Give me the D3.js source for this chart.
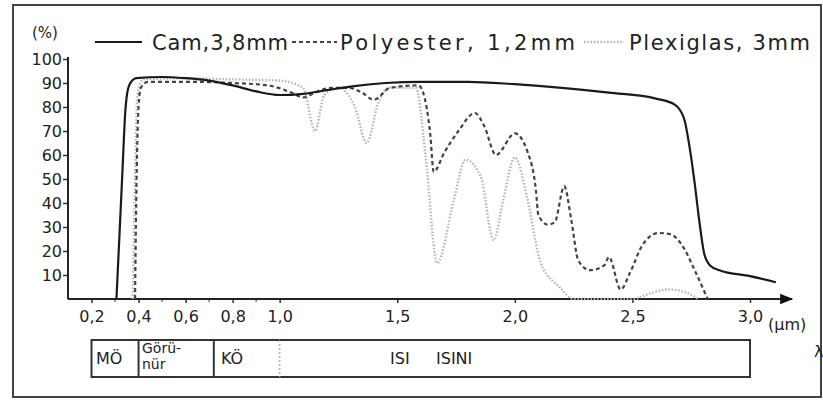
<!DOCTYPE html>
<html>
<head>
<meta charset="utf-8">
<script src="https://cdn.jsdelivr.net/npm/d3@7"></script>
<style>
  body { margin: 0; background: #fff; }
  svg { display: block; font-family: 'DejaVu Sans', sans-serif; }
</style>
</head>
<body>
<div id="chart"></div>
<script>
// transmission (%) against wavelength (µm)
const camData = [
  [0.306, 0], [0.33, 50], [0.345, 80], [0.36, 89], [0.39, 92], [0.5, 92.5],
  [0.6, 92], [0.7, 91], [0.8, 89], [0.9, 86.5], [1.0, 85], [1.1, 85.5],
  [1.2, 87], [1.3, 88.5], [1.45, 90], [1.6, 90.5], [1.8, 90.5], [2.0, 89.5],
  [2.2, 88], [2.4, 86], [2.6, 83.5], [2.68, 81], [2.72, 75], [2.745, 62],
  [2.765, 48], [2.785, 32], [2.805, 19], [2.83, 14], [2.87, 12], [3.0, 9.5], [3.11, 7]
];
const polyesterData = [
  [0.385, 0], [0.39, 40], [0.4, 80], [0.41, 88], [0.44, 90.5], [0.6, 90.5],
  [0.8, 90], [0.95, 89], [1.05, 86], [1.1, 84], [1.15, 86], [1.22, 88],
  [1.29, 88], [1.35, 86], [1.4, 83], [1.47, 88], [1.59, 89], [1.61, 86],
  [1.64, 69], [1.655, 53], [1.7, 61], [1.76, 70], [1.83, 77.5], [1.87, 72],
  [1.92, 60], [2.0, 69], [2.055, 61], [2.09, 45], [2.1, 35], [2.14, 31],
  [2.17, 32], [2.21, 47], [2.24, 33], [2.27, 16], [2.32, 12], [2.38, 14],
  [2.4, 17.5], [2.45, 4], [2.49, 11], [2.54, 22], [2.61, 27.5], [2.66, 27],
  [2.72, 21], [2.76, 13], [2.82, 0]
];
const plexiglasData = [
  [0.375, 0], [0.385, 50], [0.395, 85], [0.42, 91.5], [0.6, 92], [0.8, 91.5],
  [1.0, 91], [1.1, 88], [1.15, 70], [1.19, 85], [1.25, 88], [1.32, 80],
  [1.37, 65], [1.42, 82], [1.47, 88], [1.58, 88], [1.62, 60], [1.67, 15],
  [1.74, 41], [1.79, 58], [1.855, 51], [1.91, 24.5], [1.95, 41], [2.0, 59],
  [2.055, 41], [2.11, 15], [2.19, 5], [2.25, 0], [2.5, 0], [2.58, 2.5],
  [2.65, 4], [2.72, 3], [2.78, 0]
];

const yTicks = [10, 20, 30, 40, 50, 60, 70, 80, 90, 100];
const xTicks = [0.2, 0.4, 0.6, 0.8, 1.0, 1.5, 2.0, 2.5, 3.0];
const xMinorTicks = [0.3, 0.5, 0.7, 0.9];

const legendLabels = ['Cam,3,8mm', 'Polyester, 1,2mm', 'Plexiglas, 3mm'];

// spectral bands under the axis
const bandEdges = [0.2, 0.4, 0.72, 1.0, 3.0];
const bandLabels = [['MÖ'], ['Görü-', 'nür'], ['KÖ'], ['ISI'], ['ISINI']];

const width = 823, height = 403;

const svg = d3.select('#chart').append('svg')
  .attr('width', width)
  .attr('height', height);

// outer frame of the scanned figure
svg.append('rect')
  .attr('x', 13).attr('y', 5)
  .attr('width', 808).attr('height', 392)
  .attr('fill', 'none')
  .attr('stroke', '#444')
  .attr('stroke-width', 2);

const x = d3.scaleLinear().domain([0.1, 3.17]).range([68, 790]);
const y = d3.scaleLinear().domain([0, 100]).range([299, 59]);

// Y axis
const yAxis = svg.append('g')
  .attr('transform', 'translate(68,0)')
  .call(d3.axisLeft(y).tickValues(yTicks).tickSize(5).tickPadding(1).tickFormat(d3.format('d')));
yAxis.select('.domain').remove();
yAxis.selectAll('line').attr('stroke', '#333').attr('stroke-width', 1.5);
yAxis.selectAll('text')
  .attr('font-size', 16)
  .attr('font-family', 'DejaVu Sans')
  .attr('fill', '#222');

svg.append('line')
  .attr('x1', 68).attr('x2', 68)
  .attr('y1', y(0)).attr('y2', y(100) - 2)
  .attr('stroke', '#222').attr('stroke-width', 2);

svg.append('text')
  .attr('x', 45).attr('y', 38)
  .attr('text-anchor', 'middle')
  .attr('font-size', 15)
  .attr('fill', '#222')
  .text('(%)');

// X axis
const commaFmt = d => d3.format('.1f')(d).replace('.', ',');
const xAxis = svg.append('g')
  .attr('transform', `translate(0,${y(0)})`)
  .call(d3.axisBottom(x).tickValues(xTicks).tickSize(4).tickPadding(8).tickFormat(commaFmt));
xAxis.select('.domain').remove();
xAxis.selectAll('line').attr('stroke', '#333').attr('stroke-width', 1.5);
xAxis.selectAll('text')
  .attr('font-size', 16)
  .attr('font-family', 'DejaVu Sans')
  .attr('fill', '#222');

svg.append('g')
  .selectAll('line')
  .data(xMinorTicks)
  .join('line')
  .attr('x1', d => x(d)).attr('x2', d => x(d))
  .attr('y1', y(0)).attr('y2', y(0) + 3)
  .attr('stroke', '#555').attr('stroke-width', 1.2);

svg.append('defs').append('marker')
  .attr('id', 'arrow')
  .attr('viewBox', '0 0 10 10')
  .attr('refX', 9).attr('refY', 5)
  .attr('markerWidth', 7).attr('markerHeight', 6)
  .attr('orient', 'auto')
  .append('path')
  .attr('d', 'M0,1 L10,5 L0,9 Z')
  .attr('fill', '#111');

svg.append('line')
  .attr('x1', 68).attr('x2', 792)
  .attr('y1', y(0)).attr('y2', y(0))
  .attr('stroke', '#222').attr('stroke-width', 2.2)
  .attr('marker-end', 'url(#arrow)');

svg.append('text')
  .attr('x', 768).attr('y', 330)
  .attr('font-size', 16)
  .attr('fill', '#222')
  .text('(µm)');

// curves
const line = d3.line()
  .x(d => x(d[0]))
  .y(d => y(d[1]))
  .curve(d3.curveMonotoneX);

const styles = [
  { stroke: '#1a1a1a', width: 2.2, dash: null },
  { stroke: '#444', width: 2.2, dash: '4,3' },
  { stroke: '#b4b4b4', width: 2.4, dash: '1.5,1.8' }
];

[plexiglasData, polyesterData, camData].forEach((data, i) => {
  const s = styles[2 - i];
  svg.append('path')
    .datum(data)
    .attr('fill', 'none')
    .attr('stroke', s.stroke)
    .attr('stroke-width', s.width)
    .attr('stroke-dasharray', s.dash)
    .attr('stroke-linejoin', 'round')
    .attr('d', line);
});

// legend
const legendPos = [
  { x1: 95, x2: 142, tx: 152, len: 136 },
  { x1: 292, x2: 337, tx: 340, len: 235 },
  { x1: 584, x2: 624, tx: 629, len: 181 }
];
legendLabels.forEach((label, i) => {
  const p = legendPos[i], s = styles[i];
  svg.append('line')
    .attr('x1', p.x1).attr('x2', p.x2)
    .attr('y1', 42).attr('y2', 42)
    .attr('stroke', s.stroke)
    .attr('stroke-width', s.width)
    .attr('stroke-dasharray', s.dash);
  svg.append('text')
    .attr('x', p.tx).attr('y', 50)
    .attr('font-size', 21)
    .attr('textLength', p.len)
    .attr('lengthAdjust', 'spacing')
    .attr('fill', '#222')
    .text(label);
});

// band strip
const bandTop = 340, bandBottom = 377;
svg.append('rect')
  .attr('x', x(bandEdges[0])).attr('y', bandTop)
  .attr('width', x(bandEdges[bandEdges.length - 1]) - x(bandEdges[0]))
  .attr('height', bandBottom - bandTop)
  .attr('fill', 'none')
  .attr('stroke', '#333')
  .attr('stroke-width', 2);

svg.append('g')
  .selectAll('line')
  .data(bandEdges.slice(1, -1))
  .join('line')
  .attr('x1', d => x(d)).attr('x2', d => x(d))
  .attr('y1', bandTop).attr('y2', bandBottom)
  .attr('stroke', (d, i) => i === 2 ? '#aaa' : '#333')
  .attr('stroke-width', (d, i) => i === 2 ? 1.5 : 2)
  .attr('stroke-dasharray', (d, i) => i === 2 ? '2,2' : null);

const bandTextX = [96, 142, 221, 390, 436];
bandLabels.forEach((lines, i) => {
  lines.forEach((s, j) => {
    svg.append('text')
      .attr('x', bandTextX[i])
      .attr('y', lines.length > 1 ? 353 + j * 16 : 364)
      .attr('font-size', lines.length > 1 ? 14 : 16)
      .attr('fill', '#222')
      .text(s);
  });
});

svg.append('text')
  .attr('x', 814).attr('y', 357)
  .attr('font-size', 16)
  .attr('fill', '#222')
  .text('λ');
</script>
</body>
</html>
